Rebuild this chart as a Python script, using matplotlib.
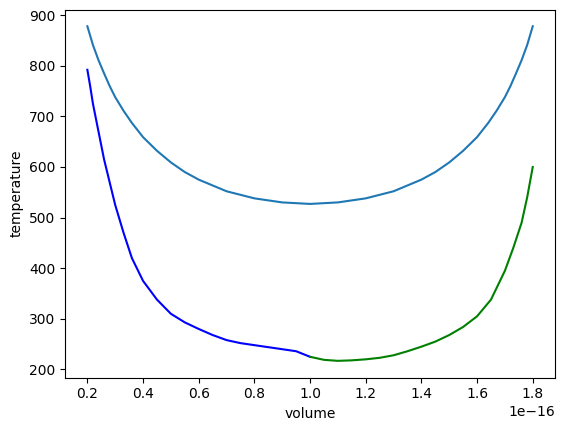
import matplotlib
matplotlib.use("Agg")
import matplotlib.pyplot as plt
import numpy as np

# smooth curve (volume in units of 1e-16)
smooth_v = [0.2, 0.22, 0.24, 0.26, 0.28, 0.3, 0.33, 0.36, 0.4, 0.45, 0.5, 0.55,
            0.6, 0.7, 0.8, 0.9, 1.0, 1.1, 1.2, 1.3, 1.4, 1.45, 1.5, 1.55,
            1.6, 1.64, 1.67, 1.7, 1.72, 1.74, 1.76, 1.78, 1.8]
smooth_t = [878, 841, 811, 785, 760, 738, 711, 687, 659, 632, 609, 590,
            575, 552, 538, 530, 527, 530, 538, 552, 575, 590, 609, 632,
            659, 687, 711, 738, 760, 785, 811, 841, 878]

blue_v = [0.2, 0.21, 0.22, 0.24, 0.26, 0.28, 0.3, 0.33, 0.36, 0.4, 0.45,
          0.5, 0.55, 0.6, 0.65, 0.7, 0.75, 0.8, 0.85, 0.9, 0.95, 1.0]
blue_t = [792, 760, 725, 670, 615, 570, 525, 470, 420, 375, 338,
          310, 293, 280, 268, 258, 252, 248, 244, 240, 236, 225]

green_v = [1.0, 1.05, 1.1, 1.15, 1.2, 1.25, 1.3, 1.35, 1.4, 1.45, 1.5,
           1.55, 1.6, 1.65, 1.7, 1.73, 1.76, 1.78, 1.8]
green_t = [225, 219, 217, 218, 220, 223, 228, 236, 245, 255, 268,
           284, 305, 338, 395, 440, 490, 540, 600]

fig, ax = plt.subplots(figsize=(5.71, 4.33), dpi=100)
ax.plot(np.array(smooth_v) * 1e-16, smooth_t, color="#1f77b4")
ax.plot(np.array(blue_v) * 1e-16, blue_t, color="blue")
ax.plot(np.array(green_v) * 1e-16, green_t, color="green")
ax.set_xlabel("volume")
ax.set_ylabel("temperature")
ax.set_xticks(np.arange(0.2, 1.81, 0.2) * 1e-16)
fig.subplots_adjust(left=0.114, right=0.972, top=0.978, bottom=0.128)
fig.savefig("out.png")
